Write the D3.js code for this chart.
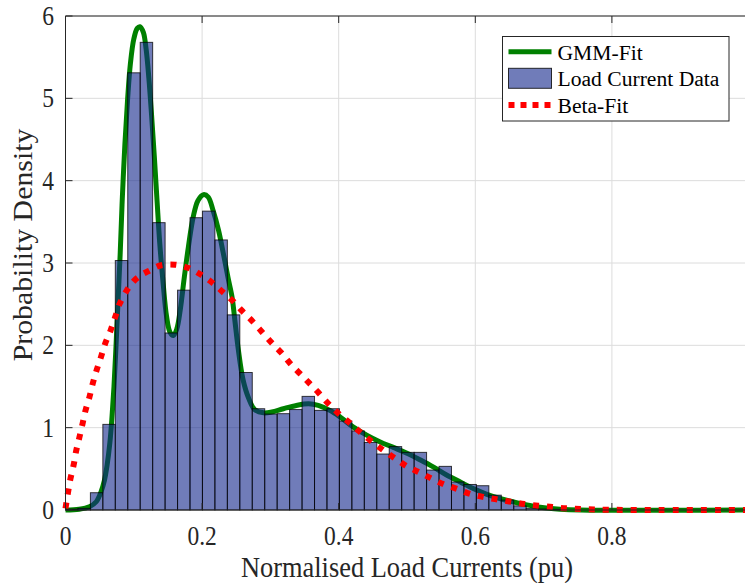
<!DOCTYPE html>
<html>
<head>
<meta charset="utf-8">
<script src="https://cdn.jsdelivr.net/npm/d3@7"></script>
<style>
    body { margin: 0; background: #fff; }
    svg { display: block; }
</style>
</head>
<body>
<div id="chart"></div>
<script>
// histogram bins (start 0, fixed width), values = probability density
const binStart = 0;
const binWidth = 0.01823;
const binHeights = [
    0.01, 0.02, 0.21, 1.04, 3.03, 5.31, 5.68, 3.49, 2.15, 2.67,
    3.55, 3.63, 3.28, 2.37, 1.67, 1.23, 1.165, 1.17, 1.22, 1.38,
    1.21, 1.23, 1.08, 0.96, 0.82, 0.68, 0.77, 0.70, 0.70, 0.485,
    0.53, 0.34, 0.31, 0.295, 0.18, 0.12, 0.05, 0.02, 0.012, 0.008,
];

// GMM fit
const gmmX = [
    0, 0.02, 0.035, 0.045, 0.052, 0.057, 0.061, 0.065, 0.068, 0.071,
    0.074, 0.077, 0.08, 0.083, 0.087, 0.091, 0.095, 0.1, 0.105, 0.109,
    0.114, 0.118, 0.122, 0.126, 0.13, 0.134, 0.138, 0.143, 0.148, 0.153,
    0.158, 0.163, 0.168, 0.174, 0.18, 0.187, 0.194, 0.202, 0.209, 0.216,
    0.224, 0.231, 0.238, 0.244, 0.248, 0.253, 0.26, 0.268, 0.277, 0.29,
    0.302, 0.319, 0.338, 0.356, 0.37, 0.387, 0.402, 0.421, 0.441, 0.46,
    0.48, 0.5, 0.519, 0.539, 0.558, 0.578, 0.597, 0.617, 0.636, 0.665,
    0.695, 0.724, 0.754, 1.0,
];
const gmmY = [
    0, 0.01, 0.04, 0.1, 0.22, 0.36, 0.55, 0.82, 1.12, 1.5,
    2.0, 2.55, 3.1, 3.75, 4.45, 5.0, 5.42, 5.72, 5.85, 5.87,
    5.8, 5.6, 5.25, 4.8, 4.3, 3.76, 3.24, 2.75, 2.35, 2.16,
    2.12, 2.2, 2.43, 2.83, 3.2, 3.56, 3.76, 3.83, 3.8, 3.64,
    3.4, 3.12, 2.82, 2.58, 2.3, 1.95, 1.58, 1.36, 1.22, 1.18,
    1.19, 1.23, 1.27, 1.29, 1.27, 1.21, 1.13, 1.01, 0.91, 0.83,
    0.76, 0.69, 0.61, 0.52, 0.425, 0.34, 0.26, 0.19, 0.14, 0.08,
    0.033, 0.01, 0, 0,
];

// Beta fit
const betaX = [
    0, 0.007, 0.012, 0.0154, 0.02, 0.025, 0.029, 0.035, 0.04, 0.046,
    0.052, 0.058, 0.066, 0.073, 0.079, 0.09, 0.1, 0.11, 0.121, 0.139,
    0.16, 0.18, 0.198, 0.215, 0.23, 0.245, 0.259, 0.274, 0.288, 0.302,
    0.316, 0.329, 0.343, 0.357, 0.371, 0.385, 0.4, 0.416, 0.431, 0.447,
    0.463, 0.48, 0.498, 0.516, 0.534, 0.553, 0.572, 0.591, 0.611, 0.631,
    0.652, 0.672, 0.692, 0.713, 0.733, 0.754, 0.774, 0.795, 0.85, 1.0,
];
const betaY = [
    0.02, 0.37, 0.55, 0.71, 0.87, 1.05, 1.2, 1.37, 1.54, 1.71,
    1.86, 2.02, 2.18, 2.35, 2.5, 2.67, 2.78, 2.85, 2.9, 2.97,
    2.98, 2.94, 2.86, 2.76, 2.65, 2.54, 2.415, 2.29, 2.16, 2.03,
    1.91, 1.78, 1.66, 1.54, 1.42, 1.29, 1.17, 1.06, 0.95, 0.84,
    0.74, 0.64, 0.54, 0.465, 0.39, 0.315, 0.26, 0.2, 0.16, 0.13,
    0.1, 0.073, 0.052, 0.036, 0.02, 0.012, 0.006, 0.003, 0, 0,
];

const xTicks = [0, 0.2, 0.4, 0.6, 0.8];
const xTickLabels = ["0", "0.2", "0.4", "0.6", "0.8"];
const yTicks = [0, 1, 2, 3, 4, 5, 6];
const yTickLabels = ["0", "1", "2", "3", "4", "5", "6"];
const legendLabels = ["GMM-Fit", "Load Current Data", "Beta-Fit"];

const W = 745, H = 583;
const plot = { left: 65.5, top: 16, bottom: 510, right: 748.5 };
const axisColor = "#262626";
const font = "'Liberation Serif', 'Times New Roman', serif";
const stretch = 1.13; // picture text is a bit taller than wide

const svg = d3.select("#chart").append("svg")
    .attr("width", W)
    .attr("height", H);

const x = d3.scaleLinear().domain([0, 1]).range([plot.left, plot.right]);
const y = d3.scaleLinear().domain([0, 6]).range([plot.bottom, plot.top]);

// grid
svg.append("g").selectAll("line.gx")
    .data(xTicks.slice(1))
    .join("line")
    .attr("x1", d => x(d)).attr("x2", d => x(d))
    .attr("y1", plot.top).attr("y2", plot.bottom)
    .attr("stroke", "#dcdcdc").attr("stroke-width", 1);
svg.append("g").selectAll("line.gy")
    .data(yTicks.slice(1))
    .join("line")
    .attr("x1", plot.left).attr("x2", plot.right)
    .attr("y1", d => y(d)).attr("y2", d => y(d))
    .attr("stroke", "#dcdcdc").attr("stroke-width", 1);

const line = d3.line()
    .x(d => x(d[0]))
    .y(d => y(d[1]))
    .curve(d3.curveCatmullRom.alpha(0.5));

// GMM curve sits under the bars
svg.append("path")
    .datum(d3.zip(gmmX, gmmY))
    .attr("d", line)
    .attr("fill", "none")
    .attr("stroke", "#008000")
    .attr("stroke-width", 5);

// histogram bars
const barColor = "rgb(16,37,138)";
svg.append("g").selectAll("rect")
    .data(binHeights)
    .join("rect")
    .attr("x", (d, i) => x(binStart + i * binWidth))
    .attr("width", x(binWidth) - x(0))
    .attr("y", d => y(d))
    .attr("height", d => y(0) - y(d))
    .attr("fill", barColor)
    .attr("fill-opacity", 0.6)
    .attr("stroke", "#000")
    .attr("stroke-opacity", 0.75)
    .attr("stroke-width", 1);

// Beta curve, dotted, on top
svg.append("path")
    .datum(d3.zip(betaX, betaY))
    .attr("d", line)
    .attr("fill", "none")
    .attr("stroke", "#ff0000")
    .attr("stroke-width", 6)
    .attr("stroke-dasharray", "6,8");

// axes box (left + top + bottom, right edge is off-canvas)
const axes = svg.append("g").attr("stroke", axisColor).attr("stroke-width", 1);
axes.append("line").attr("x1", plot.left).attr("x2", plot.left)
    .attr("y1", plot.top).attr("y2", plot.bottom);
axes.append("line").attr("x1", plot.left).attr("x2", plot.right)
    .attr("y1", plot.top).attr("y2", plot.top);
axes.append("line").attr("x1", plot.left).attr("x2", plot.right)
    .attr("y1", plot.bottom).attr("y2", plot.bottom);

const tickLen = 7;
xTicks.forEach(t => {
    axes.append("line").attr("x1", x(t)).attr("x2", x(t))
        .attr("y1", plot.bottom).attr("y2", plot.bottom - tickLen);
    axes.append("line").attr("x1", x(t)).attr("x2", x(t))
        .attr("y1", plot.top).attr("y2", plot.top + tickLen);
});
yTicks.forEach(t => {
    axes.append("line").attr("x1", plot.left).attr("x2", plot.left + tickLen)
        .attr("y1", y(t)).attr("y2", y(t));
});

function addText(tx, ty, str, size, anchor, rotate) {
    const tf = rotate
        ? `translate(${tx},${ty}) rotate(-90) scale(${stretch},1)`
        : `translate(${tx},${ty}) scale(1,${stretch})`;
    return svg.append("text")
        .attr("transform", tf)
        .attr("text-anchor", anchor)
        .attr("font-family", font)
        .attr("font-size", size)
        .attr("fill", axisColor)
        .text(str);
}

xTicks.forEach((t, i) => addText(x(t), 545, xTickLabels[i], 23.5, "middle"));
yTicks.forEach((t, i) => addText(54, y(t) + 9, yTickLabels[i], 23.5, "end"));

addText(407, 577, "Normalised Load Currents (pu)", 26.4, "middle");
addText(32, 245, "Probability Density", 26.4, "middle", true);

// legend
const lg = svg.append("g");
lg.append("rect")
    .attr("x", 502.5).attr("y", 36.5)
    .attr("width", 226.5).attr("height", 84.5)
    .attr("fill", "#fff")
    .attr("stroke", axisColor).attr("stroke-width", 1);
const rowY = [51.7, 78.3, 105];
lg.append("line")
    .attr("x1", 508.5).attr("x2", 551.5)
    .attr("y1", rowY[0]).attr("y2", rowY[0])
    .attr("stroke", "#008000").attr("stroke-width", 5);
lg.append("rect")
    .attr("x", 508.5).attr("y", rowY[1] - 10)
    .attr("width", 43).attr("height", 20)
    .attr("fill", barColor).attr("fill-opacity", 0.6)
    .attr("stroke", "#000").attr("stroke-opacity", 0.8);
lg.append("line")
    .attr("x1", 508.5).attr("x2", 551.5)
    .attr("y1", rowY[2]).attr("y2", rowY[2])
    .attr("stroke", "#ff0000").attr("stroke-width", 6)
    .attr("stroke-dasharray", "6,6");
legendLabels.forEach((s, i) => {
    lg.append("text")
        .attr("x", 557.5)
        .attr("y", rowY[i] + 8)
        .attr("font-family", font)
        .attr("font-size", 21.6)
        .attr("fill", "#000")
        .text(s);
});
</script>
</body>
</html>
